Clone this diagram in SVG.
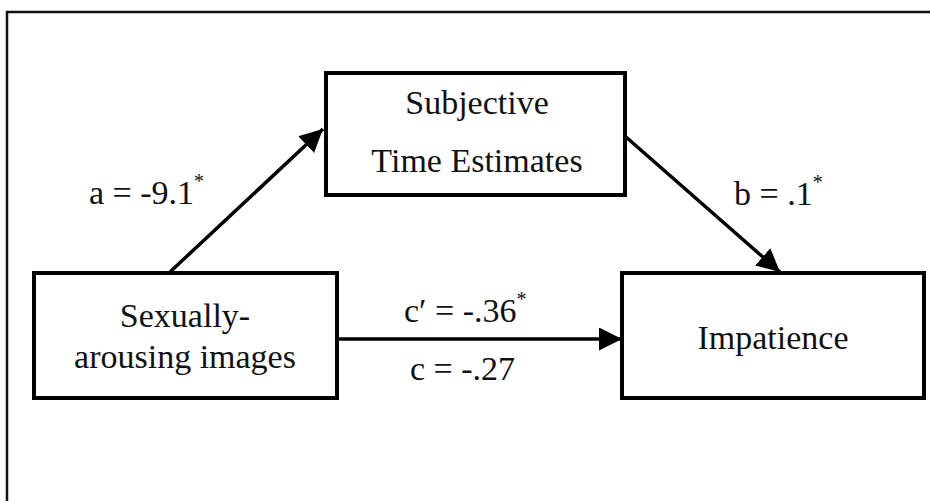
<svg xmlns="http://www.w3.org/2000/svg" width="930" height="501" viewBox="0 0 930 501">
<defs>
<style>
.box{fill:#fff;stroke:#000;stroke-width:4}
.t{font-family:"Liberation Serif","Times New Roman",serif;font-size:34px;fill:#111}
.c{text-anchor:middle}
.sup{font-size:20px}
.edge{stroke:#000;stroke-width:3.5;fill:none}
</style>
<marker id="ah" markerUnits="userSpaceOnUse" markerWidth="24" markerHeight="24" refX="23" refY="11.5" orient="auto">
<path d="M0,0 L23,11.5 L0,23 z" fill="#000"/>
</marker>
</defs>
<rect width="930" height="501" fill="#fff"/>
<rect x="7" y="12" width="940" height="500" fill="none" stroke="#111" stroke-width="2.5"/>
<g id="connectors">
<line class="edge" x1="170" y1="272" x2="323" y2="129" marker-end="url(#ah)"/>
<line class="edge" x1="626" y1="137" x2="780" y2="272" marker-end="url(#ah)"/>
<line class="edge" x1="337" y1="339" x2="622" y2="339" marker-end="url(#ah)"/>
<text class="t" x="89" y="204">a = -9.1<tspan class="sup" dy="-16">*</tspan></text>
<text class="t" x="734" y="205">b = .1<tspan class="sup" dy="-16">*</tspan></text>
<text class="t" x="404" y="322">c′ = -.36<tspan class="sup" dy="-16">*</tspan></text>
<text class="t" x="410" y="380">c = -.27</text>
</g>
<g id="node-mediator">
<rect class="box" x="326" y="73" width="299" height="122"/>
<text class="t c" x="477" y="114">Subjective</text>
<text class="t c" x="477" y="172">Time Estimates</text>
</g>
<g id="node-x">
<rect class="box" x="34" y="273" width="303" height="125"/>
<text class="t c" x="185" y="327">Sexually-</text>
<text class="t c" x="185" y="368">arousing images</text>
</g>
<g id="node-y">
<rect class="box" x="622" y="273" width="302" height="125"/>
<text class="t c" x="773" y="349">Impatience</text>
</g>
</svg>
